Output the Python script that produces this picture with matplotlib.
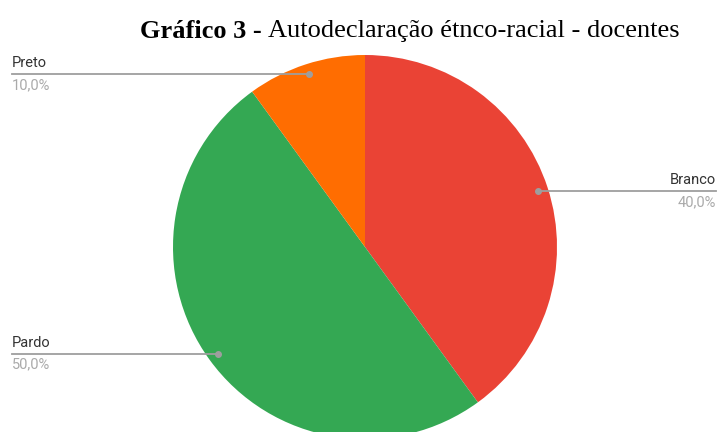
import numpy as np
import matplotlib.pyplot as plt

categorias = ['Branco', 'Pardo', 'Preto']
valores = [40.0, 50.0, 10.0]
cores = ['#EA4335', '#34A853', '#FF6D01']
rotulos_pct = ['40,0%', '50,0%', '10,0%']

W, H = 718, 432
fig = plt.figure(figsize=(W / 100, H / 100), dpi=100)
ax = fig.add_axes([0, 0, 1, 1])

cx, cy, r = 365, H - 247, 192
wedges, _ = ax.pie(valores, colors=cores, startangle=90, counterclock=False,
                   center=(cx, cy), radius=r, frame=True,
                   wedgeprops=dict(linewidth=0))
ax.set_xlim(0, W)
ax.set_ylim(0, H)
ax.set_aspect('auto')
ax.axis('off')

for w, nome, pct in zip(wedges, categorias, rotulos_pct):
    ang = np.deg2rad((w.theta1 + w.theta2) / 2)
    dx = cx + 0.945 * r * np.cos(ang)
    dy = cy + 0.945 * r * np.sin(ang)
    if np.cos(ang) > 0:
        x0, ha = 716, 'right'
    else:
        x0, ha = 12, 'left'
    ax.plot([x0, dx], [dy, dy], color='#9e9e9e', lw=1.3, zorder=3)
    ax.plot(dx, dy, 'o', color='#9e9e9e', ms=4, zorder=4)
    ax.text(x0, dy + 4, nome, ha=ha, va='bottom', fontsize=10.5,
            family='Roboto', color='#333333')
    ax.text(x0, dy - 4, pct, ha=ha, va='top', fontsize=10.5,
            family='Roboto', color='#aaaaaa')

# titulo: parte em negrito + parte normal
t1 = fig.text(140 / W, 1 - 31 / H, 'Gráfico 3 - ', family='Liberation Serif',
              fontsize=19, fontweight='bold', va='center', ha='left')
fig.canvas.draw()
bb = t1.get_window_extent()
fig.text(bb.x1 / W, 1 - 31 / H, 'Autodeclaração étnco-racial - docentes',
         family='Liberation Serif', fontsize=19, va='center', ha='left')

fig.savefig('out.png', dpi=100)
